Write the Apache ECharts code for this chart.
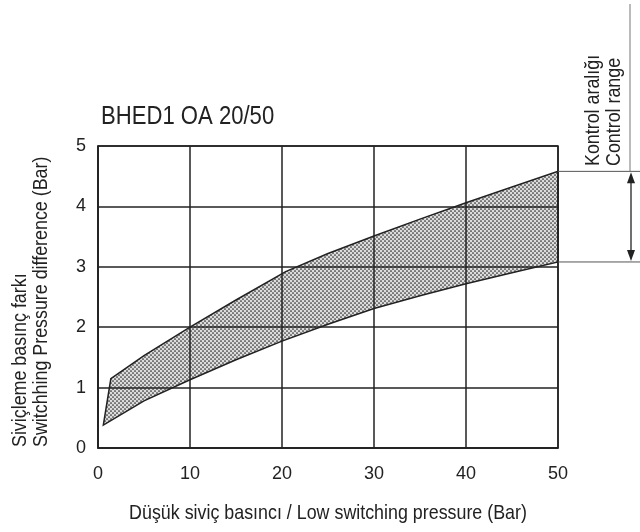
<!DOCTYPE html>
<html>
<head>
<meta charset="utf-8">
<script src="https://cdn.jsdelivr.net/npm/echarts@6/dist/echarts.min.js"></script>
<style>
  html, body { margin: 0; padding: 0; background: #fff; }
  #chart { width: 640px; height: 532px; }
</style>
</head>
<body>
<div id="chart"></div>
<script>
// band edges (x: low switching pressure, y: pressure difference)
const upperX = [1.4, 5, 10, 15, 20.4, 25, 30, 35, 40, 45, 50];
const upperY = [1.15, 1.53, 2.0, 2.45, 2.92, 3.22, 3.51, 3.79, 4.06, 4.32, 4.58];
const lowerX = [0.58, 5, 10, 15, 20, 25, 30, 35, 40, 45, 50];
const lowerY = [0.38, 0.78, 1.13, 1.46, 1.77, 2.05, 2.31, 2.52, 2.72, 2.9, 3.08];

const titleText = 'BHED1 OA 20/50';
const xName = 'Düşük siviç basıncı / Low switching pressure (Bar)';
const yName1 = 'Siviçleme basınç farkı';
const yName2 = 'Switchhing Pressure difference (Bar)';
const rangeName1 = 'Kontrol aralığı';
const rangeName2 = 'Control range';

const FONT = '"Liberation Sans", Arial, sans-serif';
const INK = '#222';
const NARROW = 0.85; // the original lettering is a condensed grotesk

// dotted fill
function dotPattern() {
    const c = document.createElement('canvas');
    c.width = 4; c.height = 4;
    const g = c.getContext('2d');
    g.fillStyle = '#dcdcdc';
    g.fillRect(0, 0, 4, 4);
    g.fillStyle = '#262626';
    g.beginPath();
    g.arc(1, 1, 0.85, 0, Math.PI * 2);
    g.arc(3, 3, 0.85, 0, Math.PI * 2);
    g.fill();
    return c;
}
const pattern = { image: dotPattern(), repeat: 'repeat' };

function label(text, x, y, size, rotated, align) {
    return {
        type: 'text', x: x, y: y,
        rotation: rotated ? Math.PI / 2 : 0,
        scaleX: NARROW,
        style: {
            text: text, fontFamily: FONT, fontSize: size, fill: INK,
            textAlign: align || 'left', textVerticalAlign: 'middle'
        }
    };
}

const chart = echarts.init(document.getElementById('chart'));

const option = {
    animation: false,
    backgroundColor: '#fff',
    grid: {
        left: 98, top: 146, width: 460, height: 302,
        show: true, borderColor: INK, borderWidth: 1.5, backgroundColor: 'transparent'
    },
    xAxis: {
        type: 'value', min: 0, max: 50, interval: 10,
        axisLine: { lineStyle: { color: INK, width: 1.5 } },
        axisTick: { show: false },
        axisLabel: { margin: 17, fontFamily: FONT, fontSize: 18, color: INK },
        splitLine: { show: true, lineStyle: { color: INK, width: 1.5 } }
    },
    yAxis: {
        type: 'value', min: 0, max: 5, interval: 1,
        axisLine: { show: true, lineStyle: { color: INK, width: 1.5 } },
        axisTick: { show: false },
        axisLabel: { margin: 12, fontFamily: FONT, fontSize: 18, color: INK },
        splitLine: { show: true, lineStyle: { color: INK, width: 1.5 } }
    },
    series: [
        {
            type: 'custom',
            z: -1,
            data: [[0, 0]],
            renderItem: function (params, api) {
                const pts = [];
                for (let i = 0; i < upperX.length; i++) {
                    pts.push(api.coord([upperX[i], upperY[i]]));
                }
                for (let i = lowerX.length - 1; i >= 0; i--) {
                    pts.push(api.coord([lowerX[i], lowerY[i]]));
                }
                return {
                    type: 'polygon',
                    shape: { points: pts },
                    style: { fill: pattern, stroke: INK, lineWidth: 1.5 }
                };
            }
        }
    ]
};

option && chart.setOption(option);

// annotations placed from the band's right end
const pTop = chart.convertToPixel({ gridIndex: 0 }, [50, upperY[upperY.length - 1]]);
const pBot = chart.convertToPixel({ gridIndex: 0 }, [50, lowerY[lowerY.length - 1]]);
const ax = 631;

chart.setOption({
    graphic: [
        { type: 'line', shape: { x1: pTop[0], y1: pTop[1], x2: 640, y2: pTop[1] }, style: { stroke: '#555', lineWidth: 1 } },
        { type: 'line', shape: { x1: pBot[0], y1: pBot[1], x2: 640, y2: pBot[1] }, style: { stroke: '#555', lineWidth: 1 } },
        { type: 'line', shape: { x1: ax - 1, y1: 4, x2: ax - 1, y2: pTop[1] }, style: { stroke: '#777', lineWidth: 1 } },
        { type: 'line', shape: { x1: ax, y1: pTop[1] + 8, x2: ax, y2: pBot[1] - 8 }, style: { stroke: INK, lineWidth: 1.3 } },
        { type: 'polygon', shape: { points: [[ax, pTop[1] + 1], [ax - 4, pTop[1] + 12], [ax + 4, pTop[1] + 12]] }, style: { fill: INK } },
        { type: 'polygon', shape: { points: [[ax, pBot[1] - 1], [ax - 4, pBot[1] - 12], [ax + 4, pBot[1] - 12]] }, style: { fill: INK } },
        label(titleText, 101, 117, 26, false),
        label(rangeName1, 593, 166, 21, true),
        label(rangeName2, 614, 166, 21, true),
        label(yName1, 20, 447, 21, true),
        label(yName2, 41, 447, 21, true),
        label(xName, 328, 513, 21, false, 'center')
    ]
});
</script>
</body>
</html>
